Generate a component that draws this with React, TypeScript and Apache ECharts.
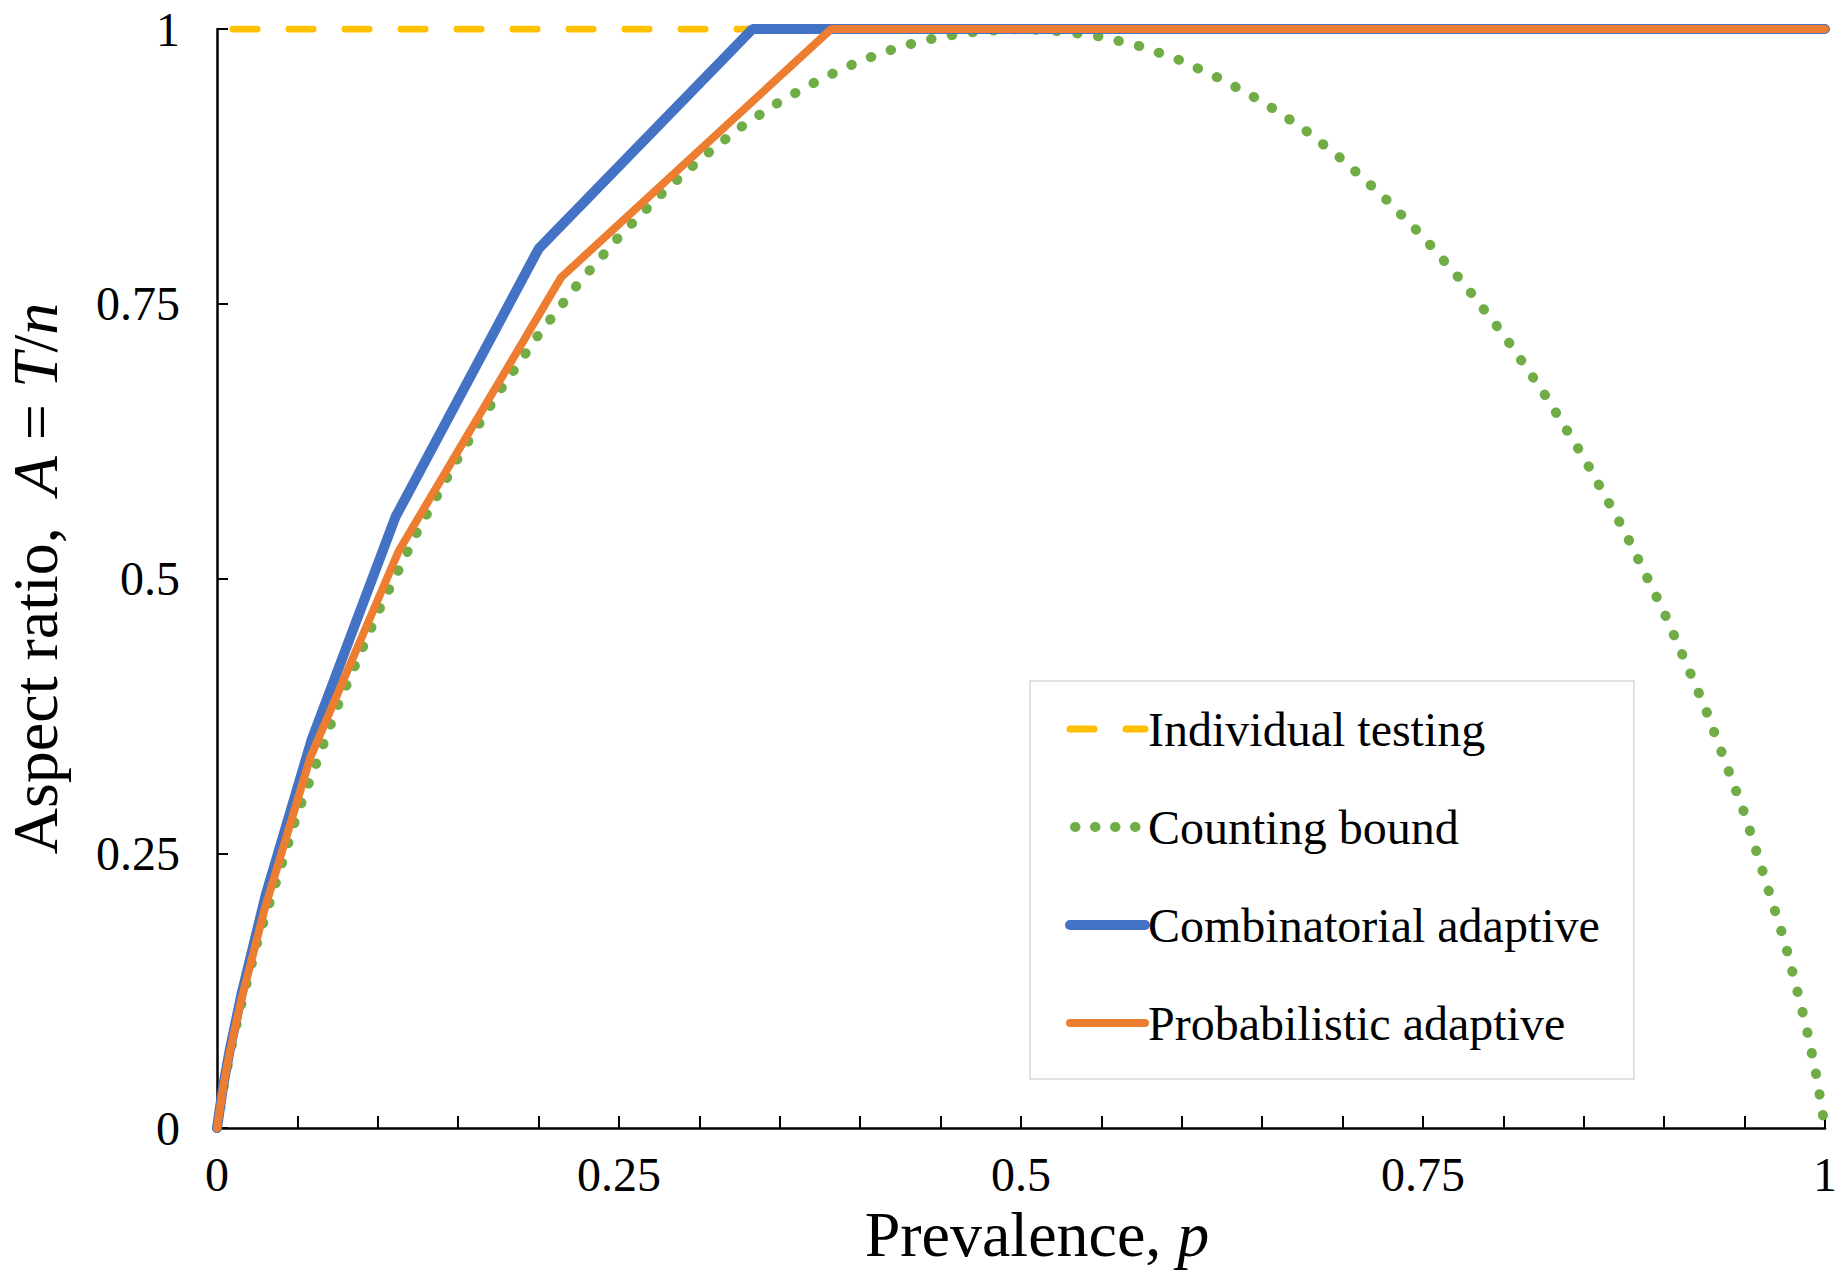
import React, { useEffect, useRef } from "react";
import * as echarts from "echarts";

// Prevalence p values and aspect ratios
const individualP = [0, 1];
const individualA = [1, 1];

const countingP = [
  0, 0.005, 0.01, 0.015, 0.025, 0.05, 0.075, 0.1, 0.125, 0.15, 0.175, 0.2, 0.225, 0.25,
  0.275, 0.3, 0.325, 0.35, 0.375, 0.4, 0.425, 0.45, 0.475, 0.5, 0.525, 0.55, 0.575, 0.6,
  0.625, 0.65, 0.675, 0.7, 0.725, 0.75, 0.775, 0.8, 0.825, 0.85, 0.875, 0.9, 0.925, 0.95,
  0.975, 0.985, 0.99, 0.995, 1,
];
const countingA = [
  0, 0.045, 0.081, 0.112, 0.169, 0.286, 0.384, 0.469, 0.544, 0.61, 0.669, 0.722, 0.769, 0.811,
  0.848, 0.881, 0.91, 0.934, 0.954, 0.971, 0.984, 0.993, 0.998, 1, 0.998, 0.993, 0.984, 0.971,
  0.954, 0.934, 0.91, 0.881, 0.848, 0.811, 0.769, 0.722, 0.669, 0.61, 0.544, 0.469, 0.384, 0.286,
  0.169, 0.112, 0.081, 0.045, 0,
];

const combinatorialP = [0, 0.0039, 0.0078, 0.0154, 0.0303, 0.0588, 0.111, 0.2, 0.333, 1];
const combinatorialA = [0, 0.039, 0.07, 0.123, 0.212, 0.353, 0.556, 0.8, 1, 1];

const probabilisticP = [0, 0.0038, 0.0075, 0.015, 0.0296, 0.058, 0.113, 0.214, 0.382, 1];
const probabilisticA = [0, 0.037, 0.066, 0.116, 0.199, 0.337, 0.525, 0.774, 1, 1];

const yTicks = ["0", "0.25", "0.5", "0.75", "1"];

const seriesNames = [
  "Individual testing",
  "Counting bound",
  "Combinatorial adaptive",
  "Probabilistic adaptive",
];

const FONT = "'Liberation Serif', 'Times New Roman', serif";

function pairs(xs: number[], ys: number[]) {
  return xs.map((x, i) => [x, ys[i]]);
}

export default function App() {
  const ref = useRef<HTMLDivElement>(null);

  useEffect(() => {
    if (!ref.current) return;
    const chart = echarts.init(ref.current, undefined, { renderer: "svg" });
    const italic = { fontFamily: FONT, fontSize: 64, fontStyle: "italic", color: "#000" };
    const normal = { fontFamily: FONT, fontSize: 64, color: "#000" };

    const yellowLine = { color: "#FFC000", width: 7, type: [24, 32], dashOffset: 39.5, cap: "round" };
    const greenLine = { color: "#70AD47", width: 10, type: [0.5, 20.5], cap: "round" };
    const blueLine = { color: "#4472C4", width: 10, cap: "round" };
    const orangeLine = { color: "#ED7D31", width: 8, cap: "round" };

    chart.setOption({
      animation: false,
      backgroundColor: "#fff",
      grid: {
        left: 217,
        right: 13,
        top: 29,
        bottom: 149,
        containLabel: false,
        outerBoundsMode: "none",
      },
      legend: {
        orient: "vertical",
        left: 1030,
        top: 681,
        padding: [24, 34, 32, 35],
        itemGap: 50,
        itemWidth: 75,
        itemHeight: 20,
        borderColor: "#d9d9d9",
        borderWidth: 1.5,
        backgroundColor: "#fff",
        selectedMode: false,
        itemStyle: { opacity: 0 },
        textStyle: { fontFamily: FONT, fontSize: 48, color: "#000", padding: [0, 0, 0, -2] },
        data: [
          { name: seriesNames[0], lineStyle: { ...yellowLine, dashOffset: 0 }, itemStyle: { opacity: 0 } },
          { name: seriesNames[1], lineStyle: { ...greenLine, type: [0.5, 19.5], dashOffset: -5 }, itemStyle: { opacity: 0 } },
          { name: seriesNames[2], lineStyle: blueLine, itemStyle: { opacity: 0 } },
          { name: seriesNames[3], lineStyle: orangeLine, itemStyle: { opacity: 0 } },
        ],
      },
      xAxis: {
        type: "value",
        min: 0,
        max: 1,
        interval: 0.05,
        name: "{n|Prevalence, }{i|p}",
        nameLocation: "middle",
        nameGap: 70,
        nameTextStyle: { padding: [0, 0, 0, 32], rich: { n: normal, i: italic } },
        axisLine: { show: true, lineStyle: { color: "#000", width: 2.5 } },
        axisTick: { show: true, inside: true, length: 12, lineStyle: { color: "#000", width: 2 } },
        axisLabel: {
          fontFamily: FONT,
          fontSize: 48,
          color: "#000",
          margin: 22,
          formatter: (v: number) => {
            const r = Math.round(v * 4);
            if (Math.abs(v * 4 - r) < 1e-6) return yTicks[r];
            return "";
          },
        },
        splitLine: { show: false },
      },
      yAxis: {
        type: "value",
        min: 0,
        max: 1,
        interval: 0.25,
        name: "{n|Aspect ratio,  }{i|A}{n| = }{i|T}{n|/}{i|n}",
        nameLocation: "middle",
        nameGap: 150,
        nameTextStyle: { rich: { n: normal, i: italic } },
        axisLine: { show: true, lineStyle: { color: "#000", width: 2.5 } },
        axisTick: { show: true, inside: true, length: 11, lineStyle: { color: "#000", width: 2 } },
        axisLabel: {
          fontFamily: FONT,
          fontSize: 48,
          color: "#000",
          margin: 37,
          formatter: (v: number) => yTicks[Math.round(v * 4)],
        },
        splitLine: { show: false },
      },
      series: [
        {
          name: seriesNames[0],
          type: "line",
          data: pairs(individualP, individualA),
          showSymbol: false,
          symbol: "none",
          color: "#FFC000",
          lineStyle: yellowLine,
          z: 1,
        },
        {
          name: seriesNames[1],
          type: "line",
          data: pairs(countingP, countingA),
          showSymbol: false,
          symbol: "none",
          color: "#70AD47",
          lineStyle: greenLine,
          z: 2,
        },
        {
          name: seriesNames[2],
          type: "line",
          data: pairs(combinatorialP, combinatorialA),
          showSymbol: false,
          symbol: "none",
          color: "#4472C4",
          lineStyle: blueLine,
          z: 3,
        },
        {
          name: seriesNames[3],
          type: "line",
          data: pairs(probabilisticP, probabilisticA),
          showSymbol: false,
          symbol: "none",
          color: "#ED7D31",
          lineStyle: orangeLine,
          z: 4,
        },
      ],
    });
    return () => chart.dispose();
  }, []);

  return (
    <div
      ref={ref}
      style={{ position: "fixed", left: 0, top: 0, width: 1838, height: 1277, background: "#fff" }}
    />
  );
}
